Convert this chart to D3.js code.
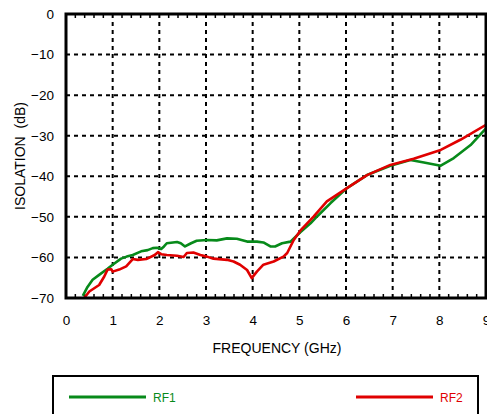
<!DOCTYPE html>
<html><head><meta charset="utf-8">
<script src="https://cdn.jsdelivr.net/npm/d3@7"></script>
<style>body{margin:0;background:#fff}svg{display:block}text{font-family:"Liberation Sans",Arial,Helvetica,sans-serif}</style>
</head><body><svg id="c" width="487" height="414"></svg>
<script>
const xTicks = [0,1,2,3,4,5,6,7,8,9];
const yTicks = [0,-10,-20,-30,-40,-50,-60,-70];
const seriesNames = ["RF1","RF2"];
const rf1Freq = [0.36,0.45,0.57,0.71,0.89,1.0,1.18,1.3,1.43,1.61,1.75,1.86,1.95,2.04,2.1,2.16,2.38,2.46,2.55,2.68,2.8,3.02,3.23,3.45,3.66,3.88,4.09,4.23,4.38,4.48,4.63,4.81,5.02,5.24,5.38,5.67,6.02,6.45,6.95,7.38,7.67,8.03,8.31,8.67,9.0];
const rf1Iso = [-69.5,-67.5,-65.5,-64.3,-62.8,-61.8,-60.3,-59.8,-59.4,-58.5,-58.2,-57.7,-57.6,-57.9,-57.3,-56.5,-56.2,-56.5,-57.3,-56.5,-55.9,-55.7,-55.8,-55.3,-55.4,-56.1,-56.1,-56.3,-57.3,-57.3,-56.5,-56.1,-53.8,-51.6,-49.9,-46.6,-42.9,-39.7,-37.4,-36.0,-36.6,-37.4,-35.5,-32.3,-28.2];
const rf2Freq = [0.39,0.5,0.71,0.82,0.89,0.97,1.0,1.14,1.29,1.43,1.54,1.72,1.9,1.97,2.04,2.16,2.38,2.52,2.59,2.73,2.88,3.02,3.16,3.45,3.59,3.73,3.88,3.98,4.09,4.23,4.45,4.66,4.74,4.88,5.02,5.31,5.59,6.02,6.45,6.95,7.45,8.03,8.45,9.0];
const rf2Iso = [-70,-68.4,-66.8,-64.7,-63.0,-62.9,-63.5,-63.0,-62.2,-60.4,-60.6,-60.4,-59.4,-58.7,-59.2,-59.4,-59.6,-59.9,-58.9,-58.8,-59.4,-59.8,-60.3,-60.6,-61.0,-61.8,-63.1,-65.1,-63.5,-61.8,-61.0,-59.8,-58.9,-55.7,-53.4,-49.9,-46.2,-42.9,-39.7,-37.2,-35.7,-33.5,-31.0,-27.3];
const colors = ["#078a1a","#e00000"];

const svg = d3.select("#c");
const L=66,R=486,T=14,B=298;
const x = d3.scaleLinear().domain([0,9]).range([L,R]);
const y = d3.scaleLinear().domain([-70,0]).range([B,T]);

const clipId="pc";
svg.append("clipPath").attr("id",clipId).append("rect").attr("x",L).attr("y",T).attr("width",R-L).attr("height",B-T);

// grid
const g = svg.append("g");
g.selectAll(".vg").data(xTicks.slice(1,-1)).join("line")
 .attr("x1",d=>x(d)).attr("x2",d=>x(d)).attr("y1",T).attr("y2",B)
 .attr("stroke","#000").attr("stroke-width",2).attr("stroke-dasharray","4,4");
g.selectAll(".hg").data(yTicks.slice(1,-1)).join("line")
 .attr("y1",d=>y(d)).attr("y2",d=>y(d)).attr("x1",L).attr("x2",R)
 .attr("stroke","#000").attr("stroke-width",2).attr("stroke-dasharray","4,4");

// minor ticks top & bottom
const minor = d3.range(0,9.001,0.2).filter(v=>Math.abs(v-Math.round(v))>1e-6);
g.selectAll(".mb").data(minor).join("line")
 .attr("x1",d=>x(d)).attr("x2",d=>x(d)).attr("y1",B).attr("y2",B-4)
 .attr("stroke","#000").attr("stroke-width",1.5);
g.selectAll(".mt").data(minor).join("line")
 .attr("x1",d=>x(d)).attr("x2",d=>x(d)).attr("y1",T).attr("y2",T+4)
 .attr("stroke","#000").attr("stroke-width",1.5);

// lines
const line = d3.line().x(d=>x(d[0])).y(d=>y(d[1])).curve(d3.curveLinear);
const s1 = rf1Freq.map((f,i)=>[f,rf1Iso[i]]);
const s2 = rf2Freq.map((f,i)=>[f,rf2Iso[i]]);
const lg = svg.append("g").attr("clip-path",`url(#${clipId})`);
lg.append("path").datum(s1).attr("d",line).attr("fill","none").attr("stroke",colors[0]).attr("stroke-width",2.6).attr("stroke-linejoin","round");
lg.append("path").datum(s2).attr("d",line).attr("fill","none").attr("stroke",colors[1]).attr("stroke-width",2.6).attr("stroke-linejoin","round");

// frame
svg.append("rect").attr("x",L).attr("y",T).attr("width",R-L).attr("height",B-T)
 .attr("fill","none").attr("stroke","#000").attr("stroke-width",3);

// axes labels via d3 axis
const xAxis = d3.axisBottom(x).tickValues(xTicks).tickSize(0).tickPadding(17).tickFormat(d3.format("d"));
const xa = svg.append("g").attr("transform",`translate(0,${B})`).call(xAxis);
xa.select(".domain").remove();
xa.selectAll("text").attr("font-size",13.5).attr("fill","#000").attr("font-family","Liberation Sans, Arial, sans-serif");
const yAxis = d3.axisLeft(y).tickValues(yTicks).tickSize(0).tickPadding(12).tickFormat(d3.format("d"));
const ya = svg.append("g").attr("transform",`translate(${L},0)`).call(yAxis);
ya.select(".domain").remove();
ya.selectAll("text").attr("font-size",13.5).attr("fill","#000").attr("font-family","Liberation Sans, Arial, sans-serif");

svg.append("text").attr("x",(L+R)/2+1).attr("y",353).attr("text-anchor","middle")
 .attr("font-size",14).text("FREQUENCY (GHz)");
svg.append("text").attr("transform","translate(25,156) rotate(-90)").attr("text-anchor","middle")
 .attr("font-size",14).attr("xml:space","preserve").style("white-space","pre").text("ISOLATION  (dB)");

// legend
svg.append("rect").attr("x",53).attr("y",376).attr("width",425).attr("height",60)
 .attr("fill","none").attr("stroke","#000").attr("stroke-width",2);
const legX=[69,356];
seriesNames.forEach((n,i)=>{
  svg.append("line").attr("x1",legX[i]).attr("x2",legX[i]+77).attr("y1",397).attr("y2",397)
   .attr("stroke",colors[i]).attr("stroke-width",3);
  svg.append("text").attr("x",legX[i]+84).attr("y",401.5).attr("font-size",12).attr("fill",colors[i]).text(n);
});
</script></body></html>
